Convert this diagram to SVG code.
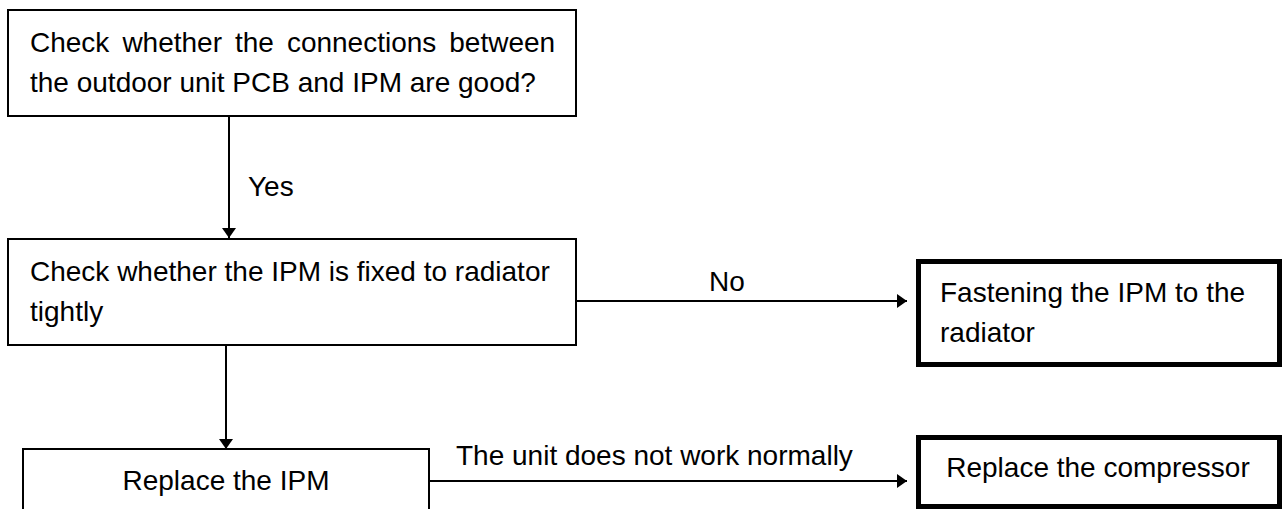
<svg xmlns="http://www.w3.org/2000/svg" width="1282" height="509" viewBox="0 0 1282 509">
<style>
  .box { fill: #ffffff; stroke: #000000; stroke-width: 2; }
  .thick { fill: #ffffff; stroke: #000000; stroke-width: 5; }
  .t { font-family: "Liberation Sans", Arial, sans-serif; font-size: 28px; fill: #000000; }
  .conn { stroke: #000000; stroke-width: 2; fill: none; marker-end: url(#ah); }
</style>
<defs>
  <marker id="ah" viewBox="0 0 10 14" refX="10" refY="7" markerWidth="10" markerHeight="14" orient="auto" markerUnits="userSpaceOnUse">
    <path d="M0,0 L10,7 L0,14 z" fill="#000000"/>
  </marker>
</defs>
<rect width="1282" height="509" fill="#ffffff"/>

<g id="node-check-connections">
  <rect class="box" x="8" y="10" width="568" height="106"/>
  <text class="t" y="52"><tspan x="30">Check</tspan><tspan x="122.4">whether</tspan><tspan x="235">the</tspan><tspan x="286.9">connections</tspan><tspan x="449.3">between</tspan></text>
  <text class="t" x="30" y="92">the outdoor unit PCB and IPM are good?</text>
</g>

<g id="node-check-ipm-fixed">
  <rect class="box" x="8" y="239" width="568" height="106"/>
  <text class="t" x="30" y="281">Check whether the IPM is fixed to radiator</text>
  <text class="t" x="30" y="321">tightly</text>
</g>

<g id="node-fastening">
  <rect class="thick" x="918.5" y="261.5" width="361" height="103"/>
  <text class="t" x="940" y="302">Fastening the IPM to the</text>
  <text class="t" x="940" y="342">radiator</text>
</g>

<g id="node-replace-ipm">
  <rect class="box" x="23" y="449" width="406" height="70"/>
  <text class="t" x="226" y="490" text-anchor="middle">Replace the IPM</text>
</g>

<g id="node-replace-compressor">
  <rect class="thick" x="918.5" y="437.5" width="361" height="69"/>
  <text class="t" x="1098" y="477" text-anchor="middle">Replace the compressor</text>
</g>

<g id="connectors">
  <line class="conn" x1="229" y1="116" x2="229" y2="238"/>
  <text class="t" x="248" y="196">Yes</text>
  <line class="conn" x1="576" y1="301" x2="907" y2="301"/>
  <text class="t" x="727" y="291" text-anchor="middle">No</text>
  <line class="conn" x1="226" y1="345" x2="226" y2="449"/>
  <line class="conn" x1="429" y1="481" x2="907" y2="481"/>
  <text class="t" x="456" y="465">The unit does not work normally</text>
</g>
</svg>
